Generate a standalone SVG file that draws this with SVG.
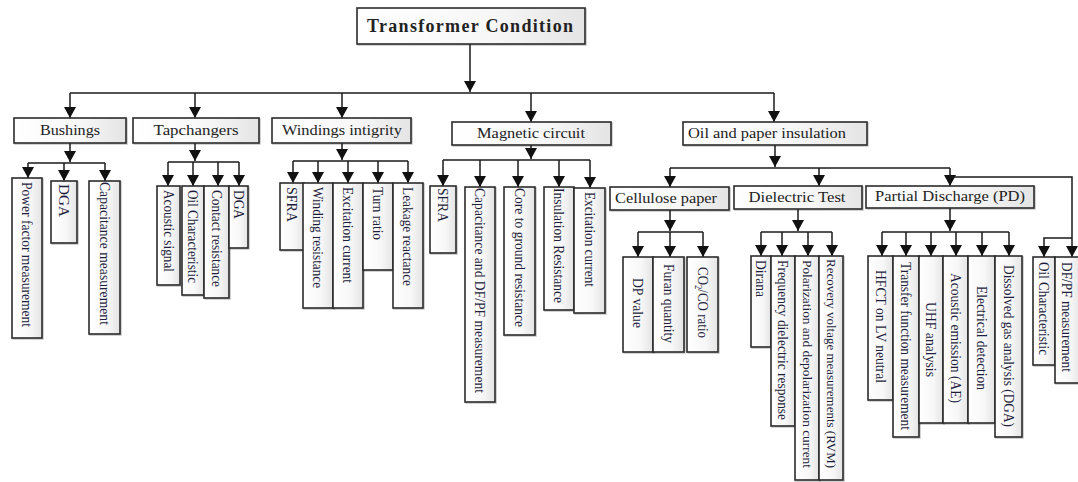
<svg xmlns="http://www.w3.org/2000/svg" width="1078" height="482" viewBox="0 0 1078 482">
<style>
.bx{fill:url(#g);stroke:#2a2a2a;stroke-width:1.6;filter:url(#sh)}
.c{fill:none;stroke:#1a1a1a;stroke-width:1.5}
.a{marker-end:url(#ar)}
.h{font-family:"Liberation Serif","Times New Roman",serif;font-size:15px;fill:#222;text-anchor:middle}
.t{font-family:"Liberation Serif","Times New Roman",serif;font-size:18px;font-weight:bold;fill:#222;text-anchor:middle}
.v{font-family:"Liberation Serif","Times New Roman",serif;font-size:14.5px;fill:#1e1e3c;dominant-baseline:central}
.s{font-size:13px}
</style>
<defs>
<linearGradient id="g" x1="0" y1="0" x2="1" y2="0">
<stop offset="0" stop-color="#ffffff"/>
<stop offset="0.6" stop-color="#f7f7f7"/>
<stop offset="1" stop-color="#e4e4e4"/>
</linearGradient>
<filter id="sh" x="-10%" y="-10%" width="130%" height="130%">
<feDropShadow dx="1" dy="1" stdDeviation="0.7" flood-color="#000" flood-opacity="0.22"/>
</filter>
<marker id="ar" markerUnits="userSpaceOnUse" markerWidth="12" markerHeight="12" refX="11" refY="6" orient="auto">
<path d="M0,0 L11,6 L0,12 z" fill="#111"/>
</marker>
</defs>
<rect width="1078" height="482" fill="#fff"/>
<g id="connectors">
<path class="c a" d="M470,44 V92"/>
<path class="c" d="M70,93 H774"/>
<path class="c a" d="M70,93 V118"/>
<path class="c a" d="M195,93 V118"/>
<path class="c a" d="M342,93 V118"/>
<path class="c a" d="M531,93 V122"/>
<path class="c a" d="M774,93 V122"/>
<path class="c a" d="M70,143 V162"/>
<path class="c" d="M28,163 H105"/>
<path class="c a" d="M28,163 V178"/>
<path class="c a" d="M64,163 V181"/>
<path class="c a" d="M105,163 V181"/>
<path class="c a" d="M195,143 V161"/>
<path class="c" d="M168,162 H239"/>
<path class="c a" d="M168,162 V186"/>
<path class="c a" d="M193,162 V186"/>
<path class="c a" d="M218,162 V186"/>
<path class="c a" d="M239,162 V186"/>
<path class="c a" d="M342,143 V160"/>
<path class="c" d="M293,161 H408"/>
<path class="c a" d="M293,161 V183"/>
<path class="c a" d="M318,161 V183"/>
<path class="c a" d="M348,161 V183"/>
<path class="c a" d="M378,161 V183"/>
<path class="c a" d="M408,161 V183"/>
<path class="c a" d="M531,145 V159"/>
<path class="c" d="M443,160 H590"/>
<path class="c a" d="M443,160 V186"/>
<path class="c a" d="M480,160 V187"/>
<path class="c a" d="M518,160 V187"/>
<path class="c a" d="M559,160 V187"/>
<path class="c a" d="M590,160 V188"/>
<path class="c a" d="M775,145 V167"/>
<path class="c" d="M670,168 H950"/>
<path class="c a" d="M670,168 V187"/>
<path class="c a" d="M819,168 V186"/>
<path class="c a" d="M950,168 V186"/>
<path class="c a" d="M950,177 H1072 V257"/>
<path class="c a" d="M1072,238 H1044 V257"/>
<path class="c a" d="M670,210 V231"/>
<path class="c" d="M638,232 H703"/>
<path class="c a" d="M638,232 V257"/>
<path class="c a" d="M670,232 V257"/>
<path class="c a" d="M703,232 V257"/>
<path class="c a" d="M798,209 V231"/>
<path class="c" d="M761,232 H832"/>
<path class="c a" d="M761,232 V256"/>
<path class="c a" d="M782,232 V256"/>
<path class="c a" d="M808,232 V256"/>
<path class="c a" d="M832,232 V256"/>
<path class="c a" d="M950,208 V231"/>
<path class="c" d="M882,232 H1009"/>
<path class="c a" d="M882,232 V256"/>
<path class="c a" d="M906,232 V256"/>
<path class="c a" d="M931,232 V256"/>
<path class="c a" d="M956,232 V256"/>
<path class="c a" d="M982,232 V256"/>
<path class="c a" d="M1009,232 V256"/>
</g>
<g id="title"><rect class="bx" x="357" y="8" width="228" height="36"/><text class="t" x="470" y="32" textLength="206">Transformer Condition</text></g>
<g id="bushings"><rect class="bx" x="14" y="118" width="112" height="25"/><text class="h" x="70" y="135" textLength="60" lengthAdjust="spacingAndGlyphs">Bushings</text></g>
<g id="tapchangers"><rect class="bx" x="133" y="118" width="126" height="25"/><text class="h" x="196" y="135" textLength="85" lengthAdjust="spacingAndGlyphs">Tapchangers</text></g>
<g id="windings"><rect class="bx" x="272" y="118" width="139" height="25"/><text class="h" x="342" y="135" textLength="120" lengthAdjust="spacingAndGlyphs">Windings intigrity</text></g>
<g id="magnetic"><rect class="bx" x="452" y="122" width="159" height="23"/><text class="h" x="531" y="138" textLength="108" lengthAdjust="spacingAndGlyphs">Magnetic circuit</text></g>
<g id="oilpaper"><rect class="bx" x="683" y="122" width="184" height="23"/><text class="h" x="767" y="138" textLength="158" lengthAdjust="spacingAndGlyphs">Oil and paper insulation</text></g>
<g id="cellulose"><rect class="bx" x="610" y="187" width="119" height="23"/><text class="h" x="666" y="203" textLength="102" lengthAdjust="spacingAndGlyphs">Cellulose paper</text></g>
<g id="dielectric"><rect class="bx" x="734" y="186" width="128" height="23"/><text class="h" x="797" y="202" textLength="97" lengthAdjust="spacingAndGlyphs">Dielectric Test</text></g>
<g id="pd"><rect class="bx" x="866" y="186" width="168" height="22"/><text class="h" x="950" y="201" textLength="150" lengthAdjust="spacingAndGlyphs">Partial Discharge (PD)</text></g>
<g id="pfm"><rect class="bx" x="12" y="178" width="30" height="160"/><text class="v" transform="translate(27,182) rotate(90)" textLength="145" lengthAdjust="spacingAndGlyphs">Power factor measurement</text></g>
<g id="dga1"><rect class="bx" x="51" y="181" width="26" height="62"/><text class="v" transform="translate(64,184) rotate(90)" textLength="33" lengthAdjust="spacingAndGlyphs">DGA</text></g>
<g id="capm"><rect class="bx" x="89" y="181" width="31" height="153"/><text class="v" transform="translate(104.5,182) rotate(90)" textLength="143" lengthAdjust="spacingAndGlyphs">Capacitance measurement</text></g>
<g id="acoustic"><rect class="bx" x="157" y="186" width="23" height="99"/><text class="v" transform="translate(168.5,190) rotate(90)" textLength="82" lengthAdjust="spacingAndGlyphs">Acoustic signal</text></g>
<g id="oilchar1"><rect class="bx" x="182" y="186" width="22" height="109"/><text class="v" transform="translate(193,190) rotate(90)" textLength="93" lengthAdjust="spacingAndGlyphs">Oil Characteristic</text></g>
<g id="contact"><rect class="bx" x="204" y="186" width="25" height="112"/><text class="v" transform="translate(216.5,190) rotate(90)" textLength="97" lengthAdjust="spacingAndGlyphs">Contact resistance</text></g>
<g id="dga2"><rect class="bx" x="229" y="186" width="19" height="62"/><text class="v" transform="translate(238.5,190) rotate(90)" textLength="29" lengthAdjust="spacingAndGlyphs">DGA</text></g>
<g id="sfra1"><rect class="bx" x="280" y="183" width="24" height="67"/><text class="v" transform="translate(292,187) rotate(90)" textLength="35" lengthAdjust="spacingAndGlyphs">SFRA</text></g>
<g id="windres"><rect class="bx" x="303" y="183" width="30" height="125"/><text class="v" transform="translate(318,187) rotate(90)" textLength="101" lengthAdjust="spacingAndGlyphs">Winding resistance</text></g>
<g id="excit1"><rect class="bx" x="333" y="183" width="30" height="125"/><text class="v" transform="translate(348,187) rotate(90)" textLength="96" lengthAdjust="spacingAndGlyphs">Excitation current</text></g>
<g id="turn"><rect class="bx" x="363" y="183" width="30" height="87"/><text class="v" transform="translate(378,187) rotate(90)" textLength="53" lengthAdjust="spacingAndGlyphs">Turn ratio</text></g>
<g id="leak"><rect class="bx" x="393" y="183" width="30" height="125"/><text class="v" transform="translate(408,187) rotate(90)" textLength="99" lengthAdjust="spacingAndGlyphs">Leakage reactance</text></g>
<g id="sfra2"><rect class="bx" x="430" y="186" width="26" height="67"/><text class="v" transform="translate(443,188) rotate(90)" textLength="34" lengthAdjust="spacingAndGlyphs">SFRA</text></g>
<g id="capdf"><rect class="bx" x="465" y="187" width="30" height="215"/><text class="v" transform="translate(480,188) rotate(90)" textLength="205" lengthAdjust="spacingAndGlyphs">Capacitance and DF/PF measurement</text></g>
<g id="core"><rect class="bx" x="504" y="187" width="31" height="148"/><text class="v" transform="translate(519.5,188) rotate(90)" textLength="139" lengthAdjust="spacingAndGlyphs">Core to ground resistance</text></g>
<g id="insres"><rect class="bx" x="544" y="187" width="30" height="123"/><text class="v" transform="translate(559,188) rotate(90)" textLength="115" lengthAdjust="spacingAndGlyphs">Insulation Resistance</text></g>
<g id="excit2"><rect class="bx" x="574" y="188" width="31" height="125"/><text class="v" transform="translate(589.5,192) rotate(90)" textLength="95" lengthAdjust="spacingAndGlyphs">Excitation current</text></g>
<g id="dp"><rect class="bx" x="623" y="257" width="30" height="95"/><text class="v" transform="translate(638,278) rotate(90)" textLength="50" lengthAdjust="spacingAndGlyphs">DP value</text></g>
<g id="furan"><rect class="bx" x="653" y="257" width="31" height="95"/><text class="v" transform="translate(668.5,264) rotate(90)" textLength="79" lengthAdjust="spacingAndGlyphs">Furan quantity</text></g>
<g id="co2"><rect class="bx" x="687" y="257" width="31" height="95"/><text class="v" transform="translate(702.5,267) rotate(90)" textLength="71" lengthAdjust="spacingAndGlyphs">CO<tspan font-size="9.5" baseline-shift="sub">2</tspan>/CO ratio</text></g>
<g id="dirana"><rect class="bx" x="751" y="256" width="20" height="91"/><text class="v" transform="translate(761,260) rotate(90)" textLength="37" lengthAdjust="spacingAndGlyphs">Dirana</text></g>
<g id="freq"><rect class="bx" x="771" y="256" width="24" height="170"/><text class="v" transform="translate(783,260) rotate(90)" textLength="160" lengthAdjust="spacingAndGlyphs">Frequency dielectric response</text></g>
<g id="polar"><rect class="bx" x="795" y="256" width="24" height="224"/><text class="v s" transform="translate(807,260) rotate(90)" textLength="208" lengthAdjust="spacingAndGlyphs">Polarization and depolarization current</text></g>
<g id="rvm"><rect class="bx" x="819" y="256" width="24" height="224"/><text class="v s" transform="translate(831,259) rotate(90)" textLength="209" lengthAdjust="spacingAndGlyphs">Recovery voltage measurements (RVM)</text></g>
<g id="hfct"><rect class="bx" x="868" y="256" width="25" height="144"/><text class="v" transform="translate(880.5,270) rotate(90)" textLength="113" lengthAdjust="spacingAndGlyphs">HFCT on LV neutral</text></g>
<g id="transfer"><rect class="bx" x="893" y="256" width="26" height="181"/><text class="v" transform="translate(906,262) rotate(90)" textLength="168" lengthAdjust="spacingAndGlyphs">Transfer function measurement</text></g>
<g id="uhf"><rect class="bx" x="919" y="256" width="24" height="167"/><text class="v" transform="translate(931,302) rotate(90)" textLength="75" lengthAdjust="spacingAndGlyphs">UHF analysis</text></g>
<g id="ae"><rect class="bx" x="943" y="256" width="25" height="167"/><text class="v" transform="translate(955.5,273) rotate(90)" textLength="130" lengthAdjust="spacingAndGlyphs">Acoustic emission (AE)</text></g>
<g id="elec"><rect class="bx" x="968" y="256" width="27" height="167"/><text class="v" transform="translate(981.5,286) rotate(90)" textLength="104" lengthAdjust="spacingAndGlyphs">Electrical detection</text></g>
<g id="dga3"><rect class="bx" x="995" y="256" width="27" height="181"/><text class="v" transform="translate(1008.5,265) rotate(90)" textLength="162" lengthAdjust="spacingAndGlyphs">Dissolved gas analysis (DGA)</text></g>
<g id="oilchar2"><rect class="bx" x="1033" y="257" width="22" height="108"/><text class="v" transform="translate(1044,262) rotate(90)" textLength="93" lengthAdjust="spacingAndGlyphs">Oil Characteristic</text></g>
<g id="dfpf"><rect class="bx" x="1055" y="257" width="26" height="126"/><text class="v" transform="translate(1067,262) rotate(90)" textLength="110" lengthAdjust="spacingAndGlyphs">DF/PF measurement</text></g>
</svg>
